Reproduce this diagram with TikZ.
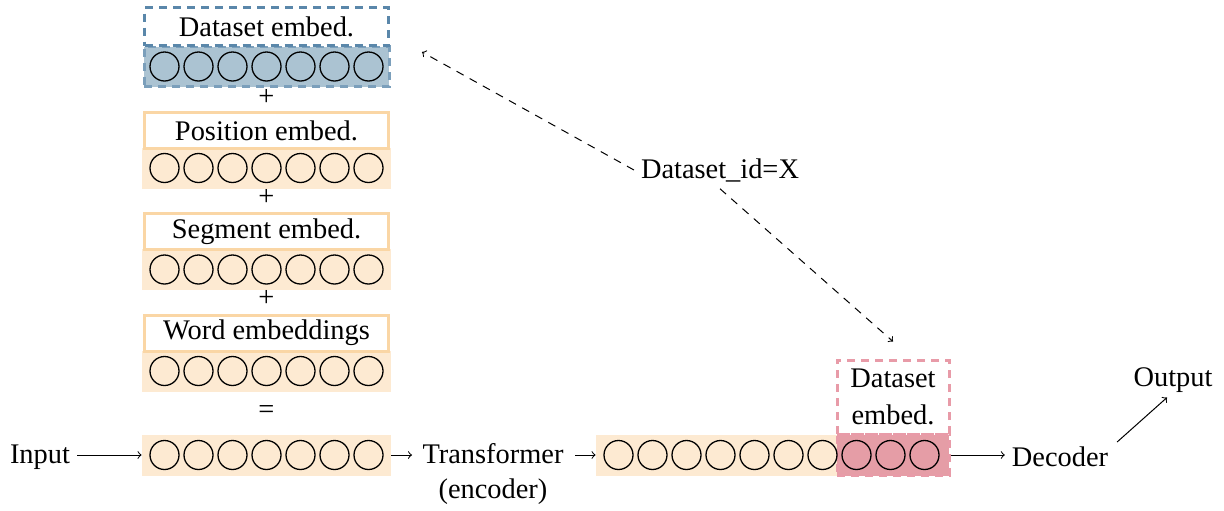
\documentclass[tikz,border=0pt]{standalone}
\usepackage{fontspec}
\setmainfont{Liberation Serif}
\definecolor{orfill}{HTML}{FDEAD2}
\definecolor{orbord}{HTML}{FAD6A5}
\definecolor{bluefill}{HTML}{ABC3D2}
\definecolor{bluebord}{HTML}{5A87AA}
\definecolor{pinkbord}{HTML}{E89BA8}
\definecolor{redfill}{HTML}{E59DA6}
\begin{document}
\begin{tikzpicture}[x=0.5pt,y=-0.5pt,
  every node/.style={font=\fontsize{14.2}{17.5}\selectfont},
  strip/.style={fill=orfill, draw=none, minimum width=124.5pt, minimum height=20.5pt, inner sep=0pt},
  bstrip/.style={fill=bluefill, draw=bluebord!80, line width=1.5pt, dash pattern=on 4pt off 3pt, minimum width=122.5pt, minimum height=20pt, inner sep=0pt},
  obox/.style={draw=orbord, line width=1.5pt, fill=white, minimum width=122pt, minimum height=18pt, inner sep=0pt},
  bbox/.style={draw=bluebord, line width=1.5pt, dash pattern=on 4pt off 3pt, fill=white, minimum width=122pt, minimum height=19pt, inner sep=0pt},
  rstrip/.style={fill=redfill, draw=pinkbord, line width=1.5pt, dash pattern=on 4pt off 3pt, minimum width=56pt, minimum height=20.5pt, inner sep=0pt},
  pbox/.style={draw=pinkbord, line width=1.5pt, dash pattern=on 4pt off 3pt, minimum width=56pt, minimum height=37pt, inner sep=0pt, align=center, font=\fontsize{14.2}{18.5}\selectfont},
  tok/.style={circle, draw=black, line width=0.65pt, minimum size=14.5pt, inner sep=0pt},
  conn/.style={->, line width=0.5pt},
  dconn/.style={->, line width=0.5pt, dash pattern=on 4pt off 3.5pt}
]
\useasboundingbox (0,0) rectangle (1224,510);

% dataset embed (blue)
\node[bstrip] (s1) at (266.5,66.5) {};
\node[bbox] (b1) at (266.5,26.5) {Dataset embed.};
\foreach \k in {0,...,6} \node[tok] (c1-\k) at (164.5+34*\k,66.5) {};
\node (p1) at (266.5,97) {+};

% position
\node[strip] (s2) at (266.5,168) {};
\node[obox] (b2) at (266.5,130.5) {Position embed.};
\foreach \k in {0,...,6} \node[tok] (c2-\k) at (164.5+34*\k,168) {};
\node (p2) at (266.5,197) {+};

% segment
\node[strip] (s3) at (266.5,269.5) {};
\node[obox] (b3) at (266.5,231.5) {Segment embed.};
\foreach \k in {0,...,6} \node[tok] (c3-\k) at (164.5+34*\k,269.5) {};
\node (p3) at (266.5,298) {+};

% word
\node[strip] (s4) at (266.5,371) {};
\node[obox] (b4) at (266.5,333) {Word embeddings};
\foreach \k in {0,...,6} \node[tok] (c4-\k) at (164.5+34*\k,371) {};
\node (eq) at (266.5,412) {=};

% input
\node[strip] (s5) at (266.5,455) {};
\foreach \k in {0,...,6} \node[tok] (c5-\k) at (164.5+34*\k,455) {};
\node (in) at (40,457) {Input};
\draw[conn] (in.east |- s5.west) -- (s5.west);

% transformer
\node[align=center, font=\fontsize{14.2}{17.5}\selectfont] (tr) at (493,474.5) {Transformer\\(encoder)};
\coordinate (trw) at (412,455);
\coordinate (tre) at (575,455);
\draw[conn] (s5.east) -- (trw);

% output sequence
\node[strip, minimum width=120.5pt] (s6) at (716.5,455) {};
\node[rstrip] (r6) at (893,455) {};
\node[pbox] (pb) at (893,397) {Dataset\\embed.};
\foreach \k in {0,...,9} \node[tok] (c6-\k) at (618.5+34*\k,455) {};
\draw[conn] (tre) -- (s6.west);

% decoder / output
\node (dec) at (1060,457) {Decoder};
\draw[conn] (r6.east) -- (dec.west |- r6.east);
\node (out) at (1173,380) {Output};
\draw[conn] ([shift={(2,2)}]dec.north east) -- ([shift={(-6,-2)}]out.south);

% dataset id
\node (lab) at (720,170) {Dataset\_id=X};
\coordinate (dtip) at (422,52);
\draw[dconn] (lab.west) -- (dtip);
\draw[dconn] (lab.south) -- ([shift={(0,-17)}]pb.north);
\end{tikzpicture}
\end{document}
